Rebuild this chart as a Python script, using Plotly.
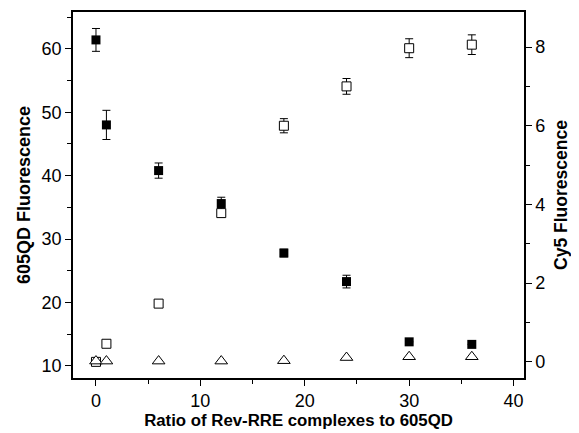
import plotly.graph_objects as go

ratio = [0, 1, 6, 12, 18, 24, 30, 36]
qd_fluor = [61.4, 48.0, 40.8, 35.6, 27.8, 23.3, 13.8, 13.4]
qd_err = [1.8, 2.3, 1.2, 1.0, 0.6, 1.0, 0.0, 0.0]
cy5_fluor = [0.0, 0.46, 1.48, 3.78, 6.0, 7.0, 7.97, 8.06]
cy5_err = [0.03, 0.08, 0.07, 0.1, 0.18, 0.2, 0.24, 0.25]
ctrl_fluor = [0.02, 0.02, 0.02, 0.02, 0.03, 0.11, 0.13, 0.13]

fig = go.Figure()

fig.add_trace(go.Scatter(
    x=ratio, y=cy5_fluor, yaxis="y2", mode="markers",
    marker=dict(symbol="square", size=9, color="white", line=dict(color="black", width=1)),
    error_y=dict(type="data", array=cy5_err, color="black", thickness=1, width=4),
    showlegend=False))

fig.add_trace(go.Scatter(
    x=ratio, y=ctrl_fluor, yaxis="y2", mode="markers",
    marker=dict(symbol="triangle-up", size=11, color="white", line=dict(color="black", width=1)),
    showlegend=False))

fig.add_trace(go.Scatter(
    x=ratio, y=qd_fluor, mode="markers",
    marker=dict(symbol="square", size=9, color="black", line=dict(color="black", width=0)),
    error_y=dict(type="data", array=qd_err, color="black", thickness=1, width=4),
    showlegend=False))

font_family = "Liberation Sans, Arial, sans-serif"

# page body has an 8px default margin, so the figure is sized/offset to fit
fig.update_layout(
    width=571, height=425,
    margin=dict(l=65, r=55, t=4, b=55),
    paper_bgcolor="white", plot_bgcolor="white",
    font=dict(family=font_family, color="black"),
    xaxis=dict(
        range=[-2.2, 41], tickvals=[0, 10, 20, 30, 40], automargin=False,
        ticks="outside", ticklen=6, tickwidth=1.2, tickcolor="black",
        minor=dict(ticks="outside", ticklen=4, dtick=5, tickcolor="black", tickwidth=1.2),
        showline=True, linecolor="black", linewidth=1.5, mirror=True,
        showgrid=False, zeroline=False,
        tickfont=dict(size=18, family=font_family),
        title=dict(text="<b>Ratio of Rev-RRE complexes to 605QD</b>",
                   font=dict(size=16.8, family=font_family), standoff=4),
    ),
    yaxis=dict(
        range=[8.1, 65.8], tickvals=[10, 20, 30, 40, 50, 60], automargin=False,
        ticks="outside", ticklen=6, tickwidth=1.2, tickcolor="black",
        minor=dict(ticks="outside", ticklen=4, dtick=5, tickcolor="black", tickwidth=1.2),
        showline=True, linecolor="black", linewidth=1.5,
        showgrid=False, zeroline=False,
        tickfont=dict(size=18, family=font_family),
        title=dict(text="<b>605QD Fluorescence</b>",
                   font=dict(size=18, family=font_family), standoff=6),
    ),
    yaxis2=dict(
        overlaying="y", side="right", automargin=False,
        range=[-0.41, 8.89], tickvals=[0, 2, 4, 6, 8],
        ticks="outside", ticklen=6, tickwidth=1.2, tickcolor="black",
        minor=dict(ticks="outside", ticklen=4, dtick=1, tickcolor="black", tickwidth=1.2),
        showline=True, linecolor="black", linewidth=1.5,
        showgrid=False, zeroline=False,
        tickfont=dict(size=18, family=font_family),
        title=dict(text="<b>Cy5 Fluorescence</b>",
                   font=dict(size=17.5, family=font_family), standoff=10),
    ),
)

fig.write_html("out.html")
